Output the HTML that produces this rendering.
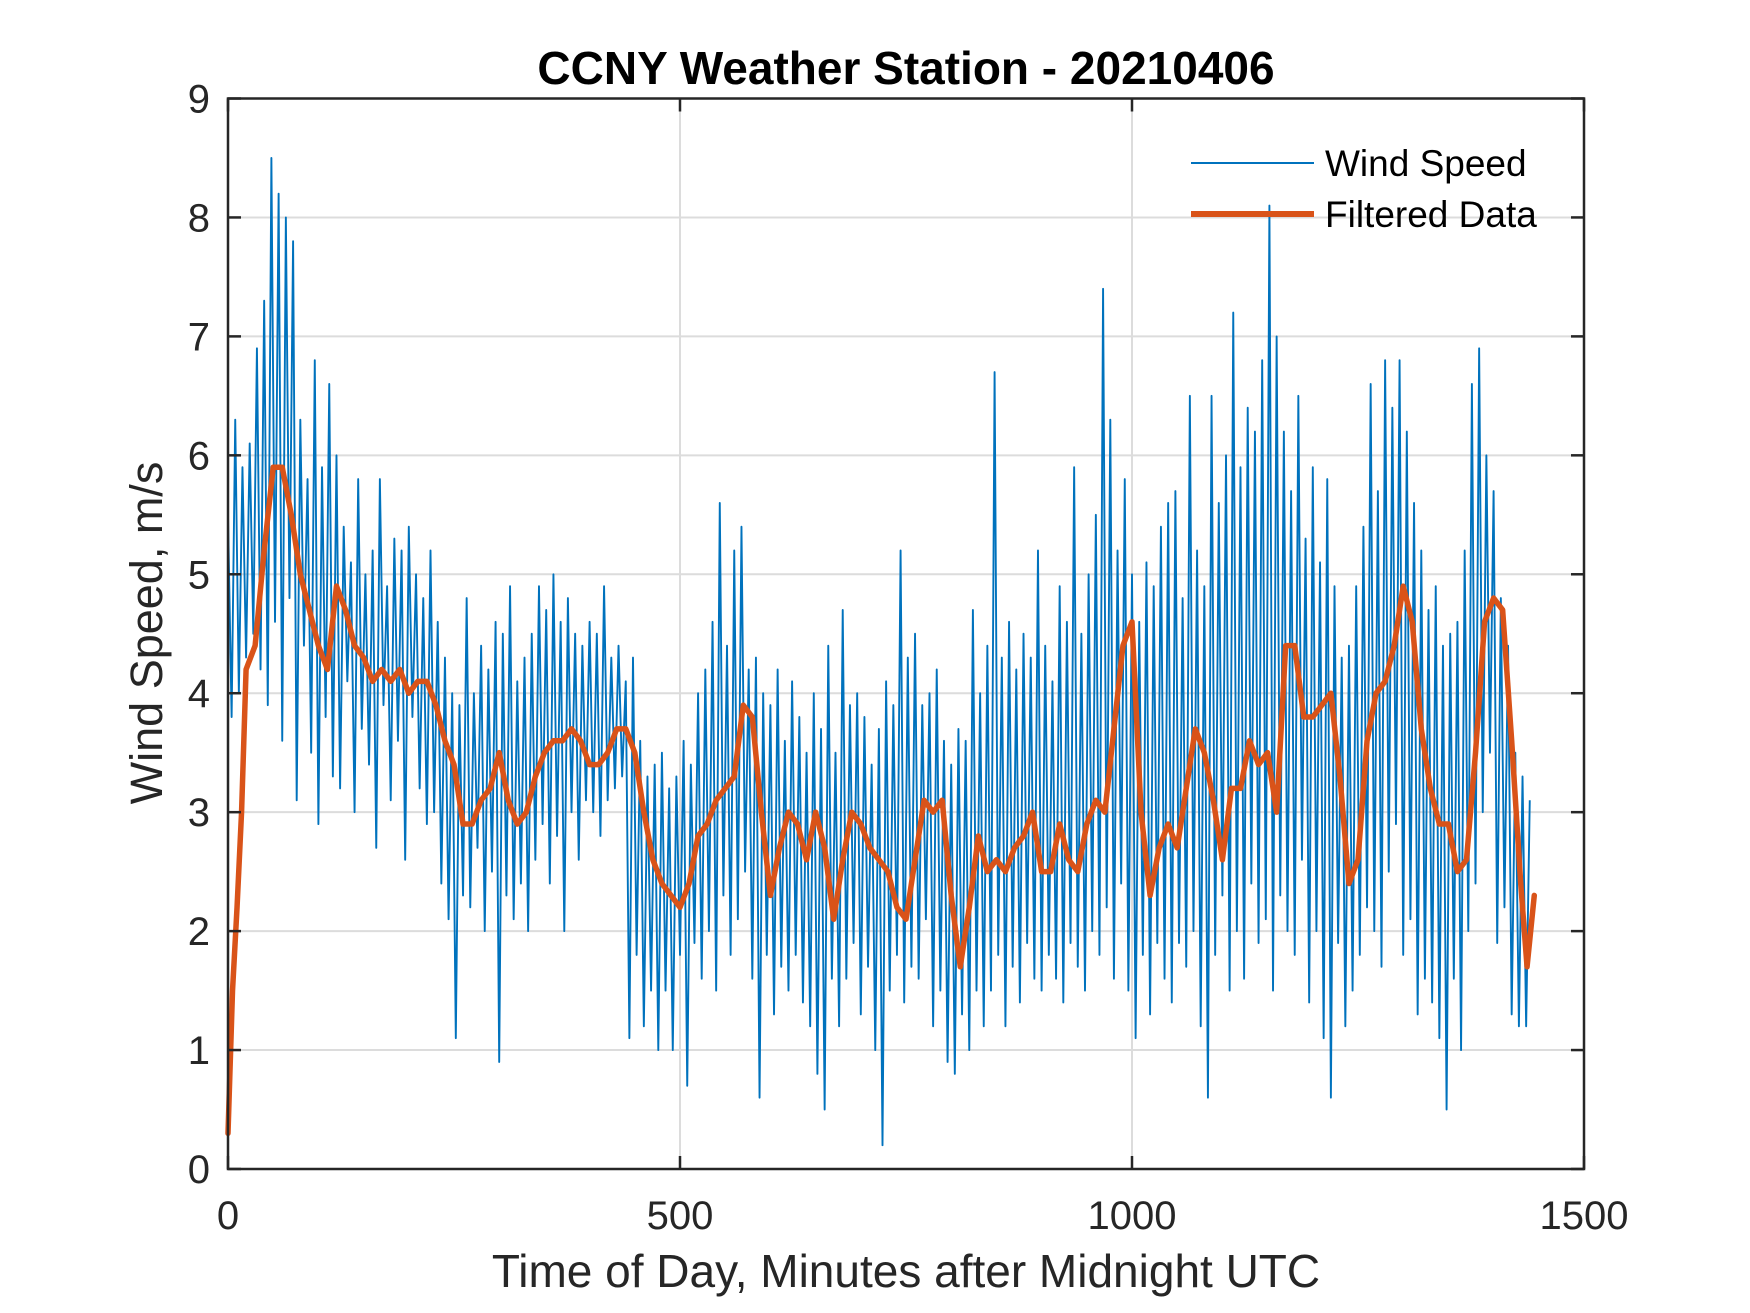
<!DOCTYPE html>
<html><head><meta charset="utf-8"><style>
html,body{margin:0;padding:0;background:#fff;}
svg{display:block;font-family:"Liberation Sans",Arial,sans-serif;}
</style></head><body>
<svg id="chart" width="1750" height="1313" viewBox="0 0 1750 1313" xmlns="http://www.w3.org/2000/svg">
<rect width="1750" height="1313" fill="#fff"/>
<g id="grid"></g>
<g id="series"></g>
<rect x="228" y="98.5" width="1356" height="1070.5" fill="none" stroke="#262626" stroke-width="2.5"/>
<g id="ticks"></g>
<text x="906" y="84" text-anchor="middle" font-size="46" font-weight="bold" fill="#000">CCNY Weather Station - 20210406</text>
<text x="906" y="1287" text-anchor="middle" font-size="46" fill="#262626">Time of Day, Minutes after Midnight UTC</text>
<text transform="translate(162,633) rotate(-90)" text-anchor="middle" font-size="45" fill="#262626">Wind Speed, m/s</text>
<g>
<line x1="1191" y1="163" x2="1314" y2="163" stroke="#0072BD" stroke-width="2"/>
<text x="1325" y="176" font-size="37" fill="#000">Wind Speed</text>
<line x1="1191" y1="214" x2="1314" y2="214" stroke="#D95319" stroke-width="6"/>
<text x="1325" y="227" font-size="37" fill="#000">Filtered Data</text>
</g>
</svg>
<script>
const xTicks = [0, 500, 1000, 1500];
const yTicks = [0, 1, 2, 3, 4, 5, 6, 7, 8, 9];
const windStep = 4;
const windSpeed = [
5.5,3.8,6.3,4.0,5.9,4.3,6.1,4.5,6.9,4.2,
7.3,3.9,8.5,4.6,8.2,3.6,8.0,4.8,7.8,3.1,
6.3,4.4,5.8,3.5,6.8,2.9,5.9,3.8,6.6,3.3,
6.0,3.2,5.4,4.1,5.1,3.0,5.8,3.7,5.0,3.4,
5.2,2.7,5.8,3.9,4.9,3.1,5.3,3.6,5.2,2.6,
5.4,3.8,5.0,3.2,4.8,2.9,5.2,3.0,4.6,2.4,
4.3,2.1,4.0,1.1,3.9,2.3,4.8,2.2,4.0,2.7,
4.4,2.0,4.2,2.5,4.6,0.9,4.5,2.3,4.9,2.1,
4.1,2.4,4.3,2.0,4.5,2.6,4.9,2.9,4.7,2.4,
5.0,2.8,4.6,2.0,4.8,3.0,4.5,2.6,4.4,3.1,
4.6,3.0,4.5,2.8,4.9,3.1,4.3,3.2,4.4,3.3,
4.1,1.1,4.3,1.8,3.6,1.2,3.3,1.5,3.4,1.0,
3.5,1.5,3.2,1.0,3.3,1.8,3.6,0.7,3.4,1.9,
4.0,1.6,4.2,2.0,4.6,1.5,5.6,2.3,4.4,1.8,
5.2,2.1,5.4,2.5,4.2,1.6,4.3,0.6,4.0,1.8,
3.9,1.3,4.2,1.7,3.6,1.5,4.1,1.8,3.8,1.4,
3.5,1.2,4.0,0.8,3.7,0.5,4.4,1.6,3.5,1.2,
4.7,1.6,3.9,1.9,4.0,1.3,3.8,1.7,3.4,1.0,
3.7,0.2,4.1,1.5,3.9,1.8,5.2,1.4,4.3,1.7,
4.5,1.6,3.9,2.1,4.0,1.2,4.2,1.5,3.6,0.9,
3.4,0.8,3.7,1.3,3.6,1.0,4.7,1.5,4.0,1.2,
4.4,1.5,6.7,1.8,4.3,1.2,4.6,1.7,4.2,1.4,
4.5,1.9,4.3,1.6,5.2,1.5,4.4,1.8,4.1,1.6,
4.9,1.4,4.6,1.9,5.9,1.7,4.5,1.5,5.0,2.0,
5.5,1.8,7.4,2.2,6.3,1.6,5.2,2.4,5.8,1.5,
5.0,1.1,4.6,1.8,5.1,1.3,4.9,1.9,5.4,1.6,
5.6,1.4,5.7,1.9,4.8,1.7,6.5,2.0,5.2,1.2,
4.9,0.6,6.5,1.8,5.6,2.3,6.0,1.5,7.2,2.0,
5.9,1.6,6.4,2.4,6.2,1.9,6.8,2.1,8.1,1.5,
7.0,2.3,6.2,2.0,5.7,1.8,6.5,2.6,5.3,1.4,
5.9,2.0,5.1,1.1,5.8,0.6,4.9,1.9,4.3,1.2,
4.4,1.5,4.9,1.8,5.4,2.2,6.6,2.0,5.7,1.7,
6.8,2.5,6.4,2.9,6.8,1.8,6.2,2.1,5.6,1.3,
5.2,1.6,4.7,1.4,4.9,1.1,4.4,0.5,4.5,1.6,
4.6,1.0,5.2,2.0,6.6,2.4,6.9,3.0,6.0,3.5,
5.7,1.9,4.8,2.2,4.4,1.3,3.5,1.2,3.3,1.2,
3.1];
const filtMinutes = [0,5,10,15,20,30,40,50,60,70,80,90,100,110,120,130,140,150,160,170,180,190,200,210,220,230,240,250,260,270,280,290,300,310,320,330,340,350,360,370,380,390,400,410,420,430,440,450,460,470,480,490,500,510,520,530,540,550,560,570,580,590,600,610,620,630,640,650,660,670,680,690,700,710,720,730,740,750,760,770,780,790,800,810,820,830,840,850,860,870,880,890,900,910,920,930,940,950,960,970,980,990,1000,1010,1020,1030,1040,1050,1060,1070,1080,1090,1100,1110,1120,1130,1140,1150,1160,1170,1180,1190,1200,1210,1220,1230,1240,1250,1260,1270,1280,1290,1300,1310,1320,1330,1340,1350,1360,1370,1380,1390,1400,1410,1420,1430,1437,1445];
const filtValues = [0.3,1.5,2.2,3.0,4.2,4.4,5.2,5.9,5.9,5.5,5.0,4.7,4.4,4.2,4.9,4.7,4.4,4.3,4.1,4.2,4.1,4.2,4.0,4.1,4.1,3.9,3.6,3.4,2.9,2.9,3.1,3.2,3.5,3.1,2.9,3.0,3.3,3.5,3.6,3.6,3.7,3.6,3.4,3.4,3.5,3.7,3.7,3.5,3.0,2.6,2.4,2.3,2.2,2.4,2.8,2.9,3.1,3.2,3.3,3.9,3.8,3.0,2.3,2.7,3.0,2.9,2.6,3.0,2.7,2.1,2.6,3.0,2.9,2.7,2.6,2.5,2.2,2.1,2.6,3.1,3.0,3.1,2.3,1.7,2.2,2.8,2.5,2.6,2.5,2.7,2.8,3.0,2.5,2.5,2.9,2.6,2.5,2.9,3.1,3.0,3.7,4.4,4.6,3.0,2.3,2.7,2.9,2.7,3.2,3.7,3.5,3.1,2.6,3.2,3.2,3.6,3.4,3.5,3.0,4.4,4.4,3.8,3.8,3.9,4.0,3.3,2.4,2.6,3.6,4.0,4.1,4.4,4.9,4.6,3.7,3.2,2.9,2.9,2.5,2.6,3.5,4.6,4.8,4.7,3.6,2.4,1.7,2.3];

const L=228,R=1584,T=98.5,B=1169;
const xs=v=>L+(v-0)/(1500-0)*(R-L);
const ys=v=>B-(v-0)/(9-0)*(B-T);
const NS="http://www.w3.org/2000/svg";
function mk(tag,attrs,parent){const e=document.createElementNS(NS,tag);for(const k in attrs)e.setAttribute(k,attrs[k]);parent.appendChild(e);return e;}
const grid=document.getElementById('grid'),ticks=document.getElementById('ticks'),series=document.getElementById('series');
xTicks.forEach(t=>{
  const x=xs(t);
  if(t>0&&t<1500){const g=mk('line',{x1:x,y1:T,x2:x,y2:B,stroke:'#dcdcdc','stroke-width':2},grid);
  
  }
  [[B,B-13],[T,T+13]].forEach(p=>{const l=mk('line',{x1:x,y1:p[0],x2:x,y2:p[1],stroke:'#262626','stroke-width':2.5},ticks);
  
  });
  const tx=mk('text',{x:x,y:1229,'text-anchor':'middle','font-size':40,fill:'#262626'},ticks);tx.textContent=t;
  
  
});
yTicks.forEach(t=>{
  const y=ys(t);
  if(t>0&&t<9){const g=mk('line',{x1:L,y1:y,x2:R,y2:y,stroke:'#dcdcdc','stroke-width':2},grid);
  
  }
  [[L,L+13],[R,R-13]].forEach(p=>{const l=mk('line',{x1:p[0],y1:y,x2:p[1],y2:y,stroke:'#262626','stroke-width':2.5},ticks);
  
  });
  const tx=mk('text',{x:210,y:y+14,'text-anchor':'end','font-size':40,fill:'#262626'},ticks);tx.textContent=t;
  
  
});
const wd=windSpeed.map((v,i)=>(i?'L':'M')+xs(i*windStep).toFixed(2)+','+ys(v).toFixed(2)).join('');
const wp=mk('path',{d:wd,fill:'none',stroke:'#0072BD','stroke-width':1.9,'stroke-linejoin':'round'},series);


const fd=filtValues.map((v,i)=>(i?'L':'M')+xs(filtMinutes[i]).toFixed(2)+','+ys(v).toFixed(2)).join('');
const fp=mk('path',{d:fd,fill:'none',stroke:'#D95319','stroke-width':5.5,'stroke-linejoin':'round','stroke-linecap':'round'},series);


</script>
</body></html>
